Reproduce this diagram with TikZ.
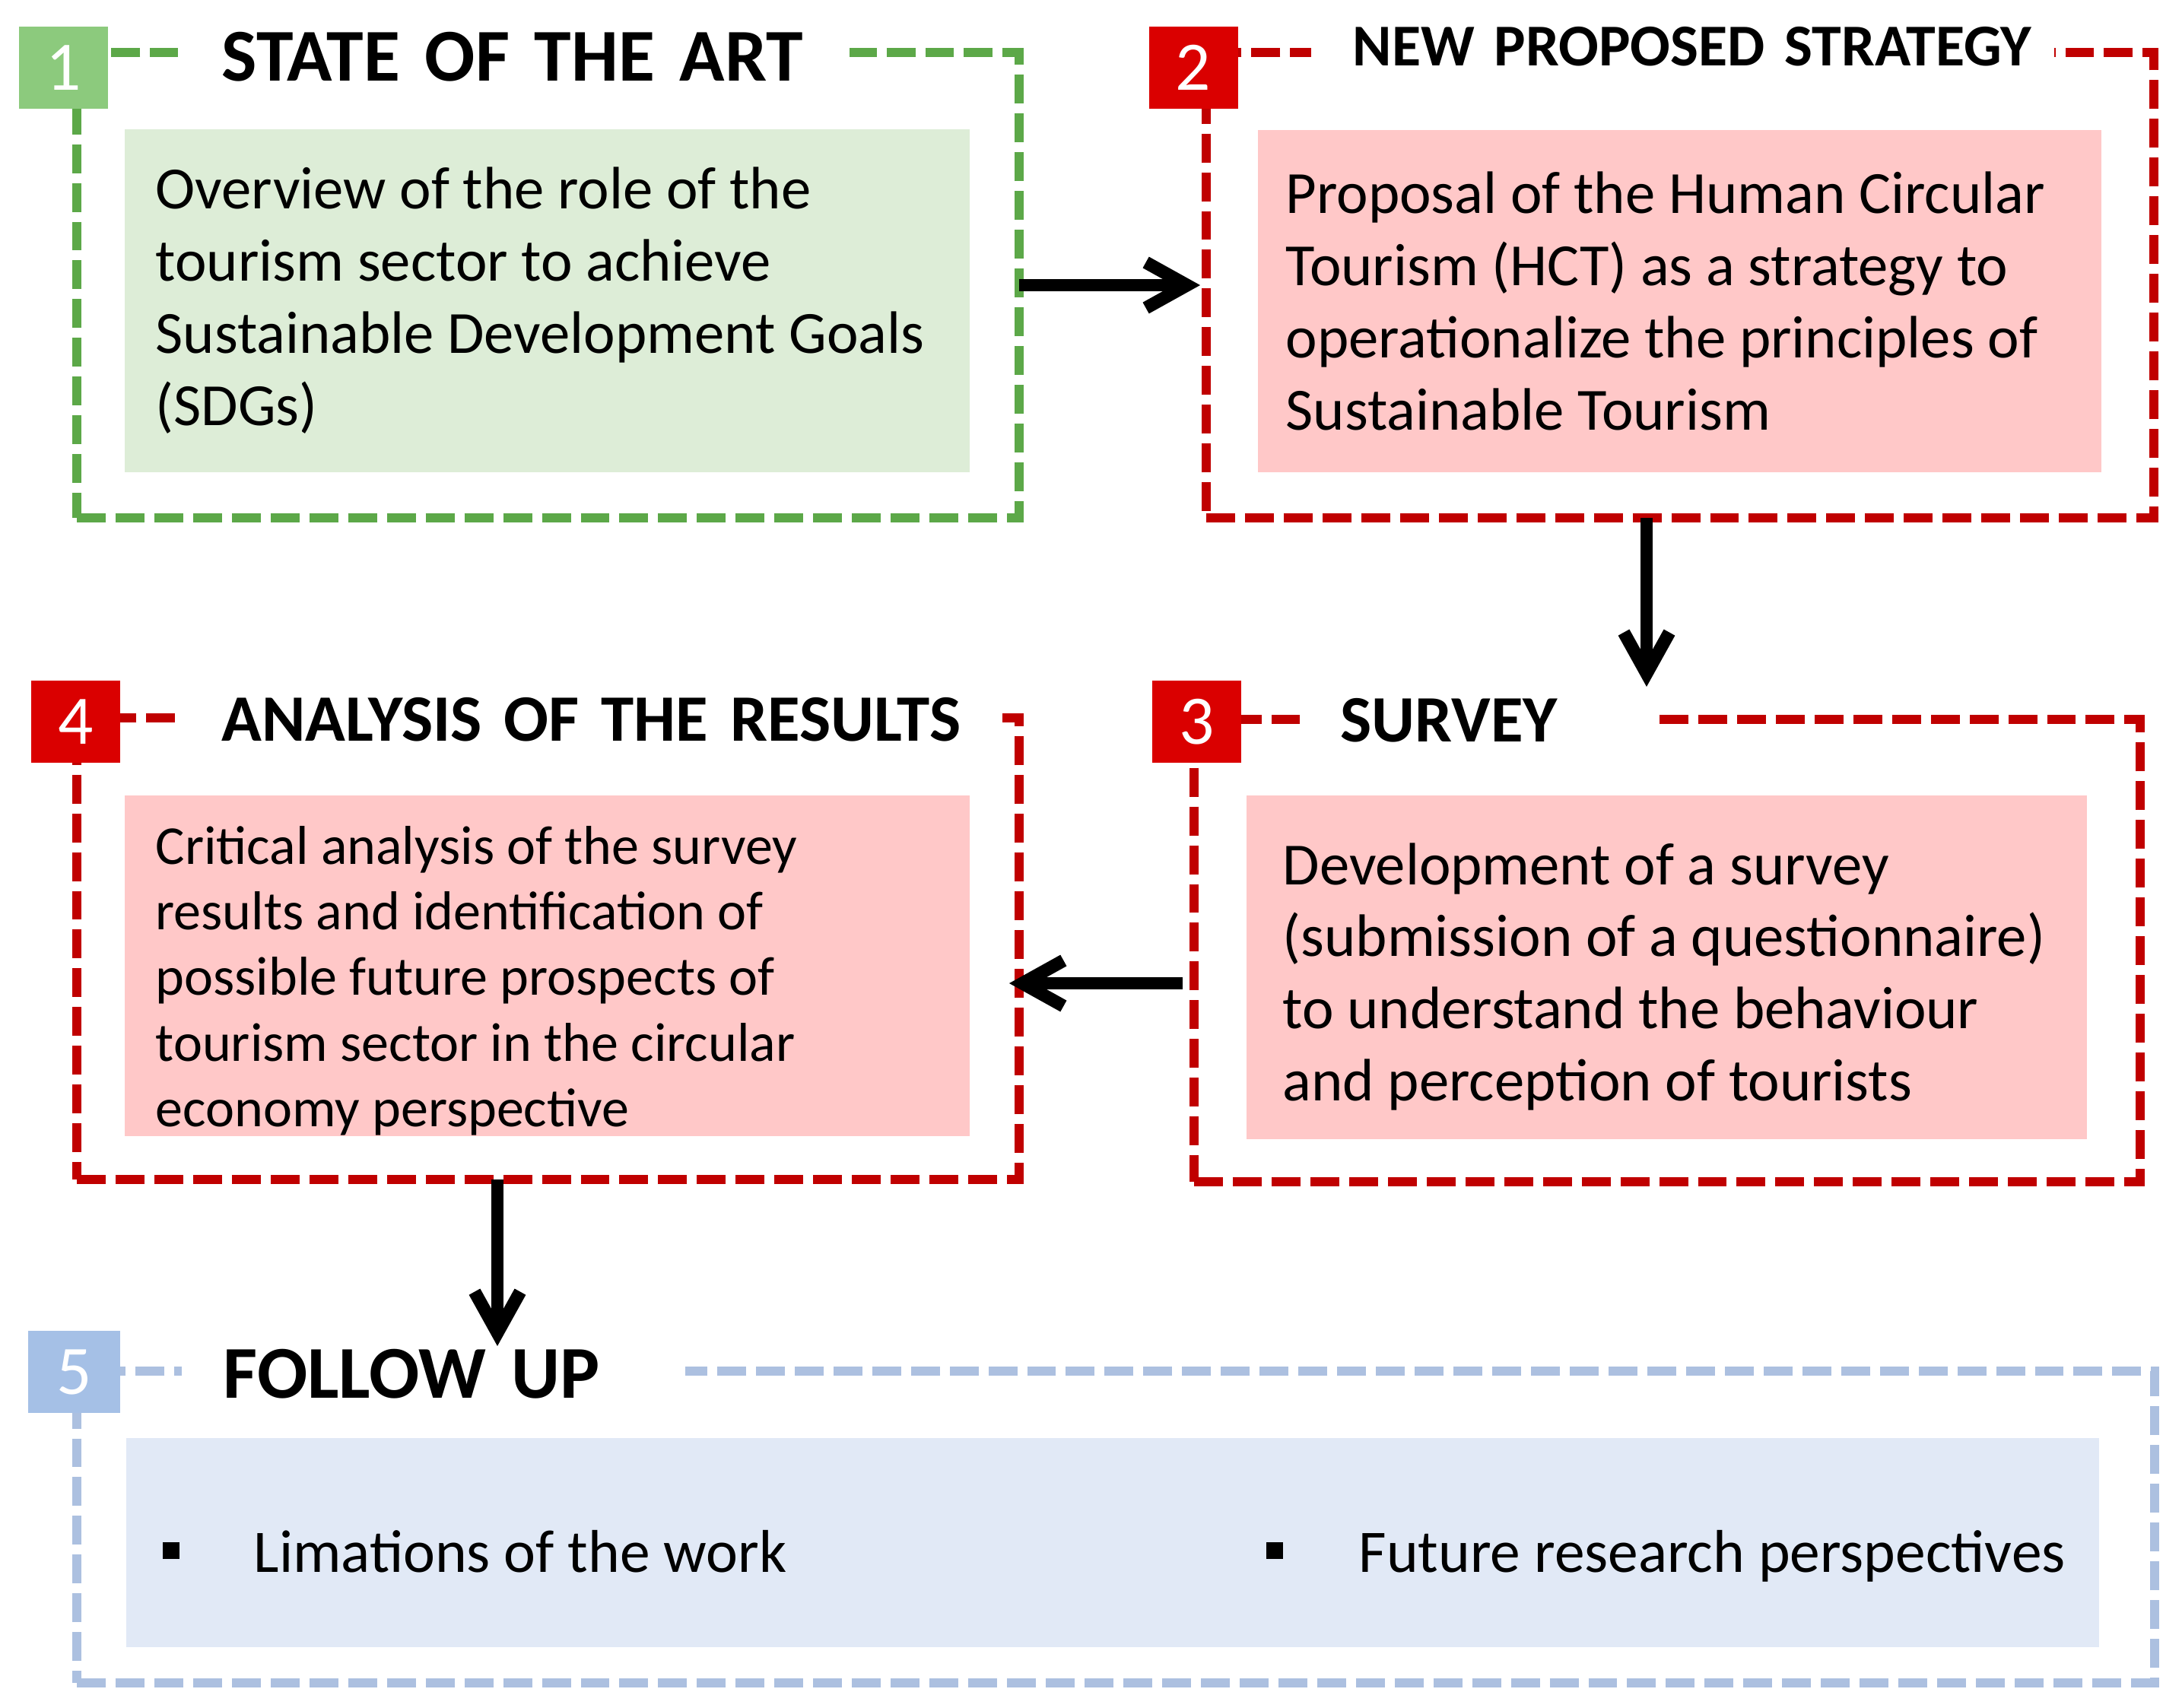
\documentclass[tikz,border=0pt]{standalone}
\usepackage{fontspec}
\setmainfont{Carlito}
\usetikzlibrary{arrows.meta}
\definecolor{gline}{RGB}{92,168,72}
\definecolor{gsq}{RGB}{140,202,125}
\definecolor{gfill}{RGB}{221,237,215}
\definecolor{rline}{RGB}{192,0,0}
\definecolor{rsq}{RGB}{218,0,0}
\definecolor{rfill}{RGB}{255,200,200}
\definecolor{bline}{RGB}{172,192,224}
\definecolor{bsq}{RGB}{165,192,230}
\definecolor{bfill}{RGB}{225,233,246}
\tikzset{
  frame/.style={draw, line width=3.4pt, dash pattern=on 10.8pt off 3.7pt, anchor=north west, inner sep=0pt, outer sep=0pt},
  numbox/.style={inner sep=0pt, minimum width=1.17cm, minimum height=1.08cm, text=white, font=\fontsize{26}{26}\selectfont},
  ttl/.style={fill=white, anchor=west, inner ysep=2pt, align=left, font=\bfseries\fontsize{27.9}{30}\selectfont},
  panel/.style={anchor=north west, inner ysep=0pt, align=flush left, font=\fontsize{22.4}{27}\selectfont},
  bul/.style={fill=black, inner sep=0pt, minimum size=2.2mm},
  item/.style={anchor=base west, inner sep=0pt, font=\fontsize{22.6}{27}\selectfont},
  arr/.style={line width=4.8pt, -{Straight Barb[length=5.4mm, width=6mm]}}
}
\begin{document}
\begin{tikzpicture}
\useasboundingbox (0,0) rectangle (28.69,-22.46);
% Box 1: state of the art
\node[frame, gline, minimum width=12.39cm, minimum height=6.12cm] (f1) at (1.01,-0.69) {};
\node[ttl, text width=7.67cm, inner xsep=5.8mm] (t1) at (2.33,-0.75) {\mbox{STATE OF THE ART}};
\node[numbox, fill=gsq] (n1) at (0.835,-0.89) {1};
\node[panel, fill=gfill, minimum width=11.11cm, minimum height=4.51cm, text width=10.29cm, inner xsep=4.1mm] (p1) at (1.63,-1.69)
  {Overview of the role of the\\tourism sector to achieve\\Sustainable Development Goals\\(SDGs)};
% Box 2: new strategy
\node[frame, rline, minimum width=12.46cm, minimum height=6.12cm] (f2) at (15.86,-0.69) {};
\node[ttl, text width=8.67cm, inner xsep=5.5mm, font=\bfseries\fontsize{22.2}{24}\selectfont] (t2) at (17.23,-0.61) {\mbox{NEW PROPOSED STRATEGY}};
\node[numbox, fill=rsq] (n2) at (15.69,-0.89) {2};
\node[panel, fill=rfill, minimum width=11.09cm, minimum height=4.50cm, text width=10.35cm, inner xsep=3.7mm] (p2) at (16.53,-1.70)
  {Proposal of the Human Circular\\Tourism (HCT) as a strategy to\\operationalize the principles of\\Sustainable Tourism};
% Box 3: survey
\node[frame, rline, minimum width=12.44cm, minimum height=6.08cm] (f3) at (15.70,-9.46) {};
\node[ttl, text width=3.55cm, inner xsep=5.4mm, font=\bfseries\fontsize{24.8}{27}\selectfont] (t3) at (17.08,-9.47) {SURVEY};
\node[numbox, fill=rsq] (n3) at (15.735,-9.49) {3};
\node[panel, fill=rfill, minimum width=11.05cm, minimum height=4.52cm, text width=10.09cm, inner xsep=4.8mm, text height=0.8cm] (p3) at (16.38,-10.45)
  {Development of a survey\\\mbox{(submission of a questionnaire)}\\to understand the behaviour\\and perception of tourists};
% Box 4: analysis
\node[frame, rline, minimum width=12.39cm, minimum height=6.07cm] (f4) at (1.01,-9.44) {};
\node[ttl, text width=9.73cm, inner xsep=5.3mm, font=\bfseries\fontsize{24.8}{27}\selectfont] (t4) at (2.38,-9.46) {\mbox{ANALYSIS OF THE RESULTS}};
\node[numbox, fill=rsq] (n4) at (0.995,-9.49) {4};
\node[panel, fill=rfill, minimum width=11.11cm, minimum height=4.48cm, text width=10.29cm, inner xsep=4.1mm, text height=0.9cm, font=\fontsize{20.5}{24.5}\selectfont] (p4) at (1.63,-10.45)
  {Critical analysis of the survey\\results and identification of\\possible future prospects of\\tourism sector in the circular\\economy perspective};
% Box 5: follow up
\node[frame, bline, minimum width=27.32cm, minimum height=4.10cm] (f5) at (1.01,-18.03) {};
\node[ttl, text width=5.52cm, inner xsep=5.5mm] (t5) at (2.38,-18.07) {FOLLOW UP};
\node[numbox, fill=bsq, minimum width=1.21cm] (n5) at (0.975,-18.04) {5};
\node[panel, fill=bfill, minimum width=25.94cm, minimum height=2.75cm] (p5) at (1.65,-18.90) {};
\node[bul] (b1) at (2.25,-20.39) {};
\node[item] (l1) at (3.33,-20.67) {Limations of the work};
\node[bul] (b2) at (16.76,-20.39) {};
\node[item] (l2) at (17.86,-20.67) {Future research perspectives};
% Arrows between the boxes
\draw[arr, shorten >=0.8mm] (f1.east) -- (f2.west);
\draw[arr, shorten >=4.3mm] ([xshift=-4.4mm]f2.south) -- ([xshift=-4.4mm]f2.south |- f3.north);
\draw[arr, shorten <=1.5mm, shorten >=-1.3mm] ([yshift=-4.3mm]f3.west) -- ([yshift=-4.3mm]f3.west -| f4.east);
\draw[arr, shorten >=3.3mm] ([xshift=-6.65mm]f4.south) -- ([xshift=-6.65mm]f4.south |- f5.north);
\end{tikzpicture}
\end{document}
